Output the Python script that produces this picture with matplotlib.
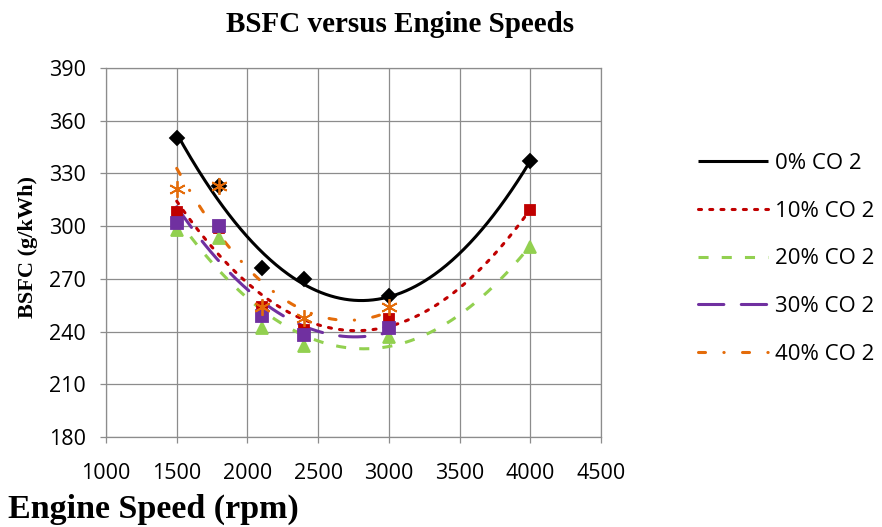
import numpy as np
import matplotlib
matplotlib.use("Agg")
import matplotlib.pyplot as plt

# data
speeds = [1500, 1800, 2100, 2400, 3000, 4000]
bsfc_0 = [350, 323, 276, 270, 260, 337]
bsfc_10 = [308, 299, 254, 241, 247, 309]
bsfc_20 = [298, 293, 242, 232, 237, 288]
bsfc_30 = [302, 300, 249, 238, 242]
bsfc_40 = [321, 323, 254, 248, 254]
labels = ["0% CO 2", "10% CO 2", "20% CO 2", "30% CO 2", "40% CO 2"]

x_ticks = [1000, 1500, 2000, 2500, 3000, 3500, 4000, 4500]
y_ticks = [180, 210, 240, 270, 300, 330, 360, 390]

tick_font = "Open Sans"
serif = "Liberation Serif"
grid_col = "#8c8c8c"


def main():
    fig = plt.figure(figsize=(8.82, 5.27), dpi=100)
    W, H = 882, 527
    ax = fig.add_axes([106 / W, 1 - 437 / H, (601 - 106) / W, (437 - 68) / H])

    series = [
        (bsfc_0, "black", "D", 7, dict(linestyle="-"), "butt"),
        (bsfc_10, "#C00000", "s", 7.5, dict(dashes=(1.0, 2.67)), "round"),
        (bsfc_20, "#92D050", "^", 8, dict(dashes=(3.3, 4.3)), "butt"),
        (bsfc_30, "#7030A0", "s", 8, dict(dashes=(8.3, 5.7)), "round"),
        (bsfc_40, "#E46C0A", (6, 2, 0), 12, dict(dashes=(2.3, 6.0, 0.1, 6.0)), "round"),
    ]

    handles = []
    for i, (vals, col, mk, ms, ls, cap) in enumerate(series):
        xs = np.array(speeds[:len(vals)], dtype=float)
        ys = np.array(vals, dtype=float)
        # second-order trend line through the points
        coef = np.polyfit(xs, ys, 2)
        xf = np.linspace(xs.min(), xs.max(), 300)
        line, = ax.plot(xf, np.polyval(coef, xf), color=col, lw=2.2,
                        solid_capstyle=cap, dash_capstyle=cap, zorder=3 + i, **ls)
        ax.plot(xs, ys, linestyle="none", marker=mk, markersize=ms, color=col,
                markeredgecolor=col, markeredgewidth=1.3, zorder=10 + i)
        handles.append(line)

    ax.set_xlim(1000, 4500)
    ax.set_ylim(180, 390)
    ax.set_xticks(x_ticks)
    ax.set_yticks(y_ticks)
    ax.grid(True, color=grid_col, lw=0.9)
    ax.set_axisbelow(True)
    for sp in ax.spines.values():
        sp.set_color(grid_col)
        sp.set_linewidth(0.9)
    ax.tick_params(axis="both", direction="out", length=4.5, width=0.9,
                   color=grid_col, labelsize=15.5)
    ax.tick_params(axis="x", pad=14)
    ax.tick_params(axis="y", pad=10)
    for lab in ax.get_xticklabels() + ax.get_yticklabels():
        lab.set_family(tick_font)

    fig.text(400 / W, 1 - 32 / H, "BSFC versus Engine Speeds", ha="center",
             va="baseline", fontsize=21, fontweight="bold", family=serif)
    fig.text(8 / W, 1 - 518 / H, "Engine Speed (rpm)", ha="left",
             va="baseline", fontsize=24.5, fontweight="bold", family=serif)
    fig.text(28 / W, 1 - 247 / H, "BSFC (g/kWh)", ha="center", va="center",
             rotation=90, fontsize=16, fontweight="bold", family=serif)

    fig.legend(handles, labels, loc="upper left",
               bbox_to_anchor=(698 / W, 1 - 153 / H), frameon=False,
               borderpad=0, borderaxespad=0, handlelength=3.15,
               handletextpad=0.32, labelspacing=1.2,
               prop={"family": tick_font, "size": 16})

    fig.savefig("out.png", dpi=100)


if __name__ == "__main__":
    main()
